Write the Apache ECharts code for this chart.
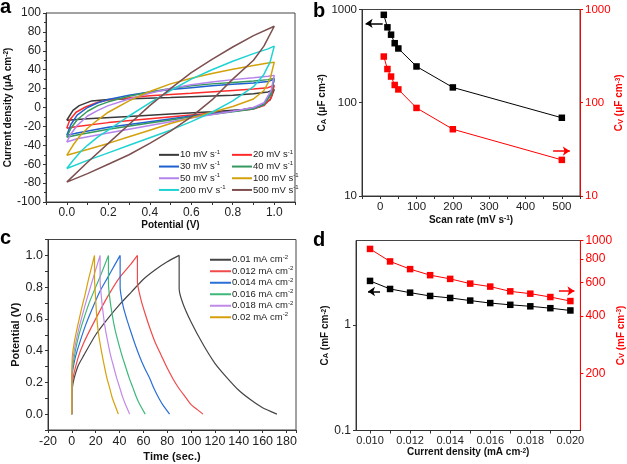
<!DOCTYPE html>
<html>
<head>
<meta charset="utf-8">
<script src="https://cdn.jsdelivr.net/npm/echarts@6.0.0/dist/echarts.min.js"></script>
<style>
  html, body { margin: 0; padding: 0; background: #fff; }
  #main { width: 627px; height: 464px; }
</style>
</head>
<body>
<div id="main"></div>
<script>
// ---- panel a: CV loops, [potential V, current density uA cm-2]
const cv10 = [[0,-13.5],[0.03,-3],[0.06,2],[0.12,7],[0.2,8.5],[0.5,10.5],[0.8,13],[0.9,14.5],[0.97,16.5],[1,19],
  [0.98,8],[0.93,1],[0.85,-2],[0.7,-4.5],[0.5,-7],[0.3,-9.5],[0.1,-12],[0,-13.5]];
const cv20 = [[0,-22],[0.015,-13],[0.045,-5],[0.09,0.5],[0.15,5.5],[0.2,8],[0.4,12.5],[0.6,15],[0.8,18],[0.9,19.5],[0.97,21],[1,23.5],
  [0.985,10],[0.95,2],[0.9,-1.5],[0.8,-4],[0.6,-8],[0.4,-12],[0.2,-16],[0.05,-20],[0,-22]];
const cv30 = [[0,-29.5],[0.02,-18],[0.05,-8],[0.1,0],[0.15,5],[0.2,8.5],[0.3,13],[0.4,16.5],[0.5,19],[0.6,21],[0.7,23],[0.8,24.5],[0.9,26],[0.97,27.5],[1,30],
  [0.985,15],[0.95,3],[0.9,-1],[0.8,-4],[0.6,-9],[0.4,-15],[0.2,-21],[0.05,-27],[0,-29.5]];
const cv40 = [[0,-31.5],[0.02,-22],[0.05,-13],[0.1,-4],[0.15,2],[0.2,6],[0.3,12],[0.4,16.5],[0.5,20],[0.6,23],[0.7,25],[0.8,26.5],[0.9,28],[0.97,29.5],[1,31],
  [0.985,14],[0.95,3],[0.9,-1.5],[0.8,-4.5],[0.6,-10],[0.4,-16.5],[0.2,-23],[0.05,-29],[0,-31.5]];
const cv50 = [[0,-36.5],[0.02,-28],[0.05,-19],[0.1,-9],[0.15,-3],[0.2,2],[0.3,9],[0.4,15],[0.5,20],[0.6,24],[0.7,27],[0.8,29.5],[0.9,31.5],[0.97,33],[1,34],
  [0.985,18],[0.95,5],[0.9,0],[0.8,-4],[0.6,-11],[0.4,-19],[0.2,-27],[0.05,-33],[0,-36.5]];
const cv100 = [[0,-50.6],[0.03,-40],[0.06,-31],[0.1,-22],[0.15,-13],[0.2,-5],[0.3,7],[0.4,17],[0.5,25],[0.6,31],[0.7,36],[0.8,40.5],[0.9,44.5],[0.97,47],[1,48],
  [0.98,30],[0.95,18],[0.9,9],[0.8,1],[0.7,-5],[0.6,-11],[0.5,-17],[0.4,-24],[0.3,-31],[0.2,-38],[0.1,-44.5],[0,-50.6]];
const cv200 = [[0,-64.6],[0.03,-56],[0.07,-46],[0.1,-40],[0.15,-31],[0.2,-24],[0.3,-9],[0.4,5],[0.5,18],[0.6,30],[0.7,40],[0.8,49],[0.9,57],[0.97,62],[1,65],
  [0.98,48],[0.95,35],[0.9,22],[0.8,7],[0.7,-5],[0.6,-15],[0.5,-24],[0.4,-32],[0.3,-40],[0.2,-48],[0.1,-56],[0,-64.6]];
const cv500 = [[0,-79],[0.1,-58],[0.2,-38],[0.3,-18],[0.4,2],[0.5,20],[0.6,37],[0.7,51],[0.8,64],[0.9,76],[1,86],
  [0.95,65],[0.9,50],[0.8,30],[0.7,8],[0.6,-10],[0.5,-25],[0.4,-38],[0.3,-50],[0.2,-60],[0.1,-70],[0,-79]];

// ---- panel b: capacitance vs scan rate
const scanRate = [10, 20, 30, 40, 50, 100, 200, 500];
const capAreaB = [877, 644, 537, 435, 382, 245, 146, 69];
const capVolB = [313, 230, 191, 155, 139, 88, 52, 24.4];

// ---- panel c: GCD curves, [time s, potential V]
const gcd010 = [[0,0],[0.5,0.17],[5,0.3],[10,0.37],[20,0.5],[30,0.6],[40,0.69],[50,0.77],[60,0.85],[70,0.91],[80,0.96],[90,1],
  [90,0.79],[93,0.7],[100,0.58],[110,0.44],[120,0.32],[130,0.23],[140,0.15],[150,0.09],[160,0.04],[172,0]];
const gcd012 = [[0,0],[0.5,0.2],[5,0.35],[10,0.45],[20,0.6],[30,0.74],[40,0.86],[50,0.95],[55,1],
  [55,0.83],[58,0.72],[62,0.62],[66,0.53],[70,0.45],[75,0.37],[80,0.29],[85,0.22],[90,0.16],[95,0.11],[100,0.06],[105,0.03],[110,0]];
const gcd014 = [[0,0],[0.4,0.25],[3,0.36],[7,0.46],[12,0.57],[18,0.68],[24,0.78],[30,0.86],[36,0.94],[40.5,1],
  [40.5,0.8],[43,0.68],[46,0.6],[49,0.53],[53,0.44],[57,0.36],[61,0.29],[65,0.23],[69,0.16],[73,0.1],[77,0.05],[82,0]];
const gcd016 = [[0,0],[0.3,0.27],[3,0.4],[6,0.5],[10,0.6],[15,0.71],[20,0.8],[25,0.89],[30.7,1],
  [30.7,0.82],[32,0.72],[34,0.62],[36,0.54],[39,0.45],[42,0.37],[45,0.3],[48,0.23],[51,0.17],[54,0.11],[57,0.06],[61.5,0]];
const gcd018 = [[0,0],[0.3,0.3],[2,0.4],[5,0.51],[8,0.6],[12,0.71],[16,0.81],[20,0.91],[23.7,1],
  [23.7,0.84],[25,0.72],[26.5,0.62],[28,0.54],[30,0.46],[32.5,0.37],[35,0.3],[37.5,0.23],[40,0.17],[42.5,0.11],[45,0.06],[48.5,0]];
const gcd020 = [[0,0],[0.3,0.35],[2,0.45],[5,0.56],[8,0.66],[11,0.75],[14,0.85],[17,0.94],[19,1],
  [19,0.86],[20,0.72],[21,0.6],[22.5,0.5],[24.5,0.41],[26.5,0.33],[29,0.24],[31.5,0.17],[34,0.1],[36.5,0.05],[39,0]];

// ---- panel d: capacitance vs current density
const currDensity = [0.010, 0.011, 0.012, 0.013, 0.014, 0.015, 0.016, 0.017, 0.018, 0.019, 0.020];
const capAreaD = [2.61, 2.19, 2.02, 1.88, 1.80, 1.70, 1.61, 1.55, 1.50, 1.44, 1.37];
const capVolD = [903, 776, 707, 657, 628, 593, 572, 540, 525, 504, 480];

// tick labels
const ticksD = [0.010, 0.012, 0.014, 0.016, 0.018, 0.020];
const minorD = [0.010, 0.011, 0.012, 0.013, 0.014, 0.015, 0.016, 0.017, 0.018, 0.019, 0.020];
const ticksDArea = [0.1, 1];
const ticksDVol = [200, 400, 600, 800, 1000];

const FONT = '"Liberation Sans", Arial, sans-serif';
const chart = echarts.init(document.getElementById('main'));

const zip = (xs, ys) => xs.map((x, i) => [x, ys[i]]);

const nameRich = {
  b: { fontSize: 10, fontWeight: 'bold', color: '#111', fontFamily: FONT },
  p: { fontSize: 6.5, fontWeight: 'bold', color: '#111', verticalAlign: 'top', fontFamily: FONT },
  s: { fontSize: 7.5, fontWeight: 'bold', color: '#111', verticalAlign: 'bottom', fontFamily: FONT },
  rb: { fontSize: 10, fontWeight: 'bold', color: '#ff0000', fontFamily: FONT },
  rp: { fontSize: 6.5, fontWeight: 'bold', color: '#ff0000', verticalAlign: 'top', fontFamily: FONT },
  rs: { fontSize: 7.5, fontWeight: 'bold', color: '#ff0000', verticalAlign: 'bottom', fontFamily: FONT }
};

function axisBase(extra) {
  return Object.assign({
    nameLocation: 'middle',
    nameTextStyle: { rich: nameRich },
    axisLine: { show: true, onZero: false, lineStyle: { color: '#333', width: 1 } },
    axisTick: { show: true, length: 3, lineStyle: { color: '#333' } },
    axisLabel: { color: '#222', fontSize: 12, fontFamily: FONT, margin: 5 },
    splitLine: { show: false }
  }, extra);
}

const legendRich = {
  t: { fontSize: 9.5, color: '#222', fontFamily: FONT },
  p: { fontSize: 6, color: '#222', verticalAlign: 'top', fontFamily: FONT }
};

function cvLine(name, data, color) {
  return { name: name, type: 'line', xAxisIndex: 0, yAxisIndex: 0, data: data, symbol: 'none',
    lineStyle: { color: color, width: 1.5 }, itemStyle: { color: color } };
}
function gcdLine(name, data, color) {
  return { name: name, type: 'line', xAxisIndex: 2, yAxisIndex: 3, data: data, symbol: 'none', smooth: 0.2,
    lineStyle: { color: color, width: 1.2 }, itemStyle: { color: color } };
}
function arrowLine(color, from, to) {
  return { silent: true, symbol: ['none', 'arrow'], symbolSize: 7, label: { show: false },
    lineStyle: { color: color, width: 1.5, type: 'solid' },
    data: [[{ coord: from }, { coord: to }]] };
}

const option = {
  animation: false,
  backgroundColor: '#fff',
  textStyle: { fontFamily: FONT },
  graphic: [
    { type: 'text', left: 0, top: -3, style: { text: 'a', font: 'bold 20px ' + FONT, fill: '#000' } },
    { type: 'text', left: 313, top: 1, style: { text: 'b', font: 'bold 20px ' + FONT, fill: '#000' } },
    { type: 'text', left: 0, top: 228, style: { text: 'c', font: 'bold 20px ' + FONT, fill: '#000' } },
    { type: 'text', left: 313, top: 230, style: { text: 'd', font: 'bold 20px ' + FONT, fill: '#000' } }
  ],
  grid: [
    { left: 46, top: 13, width: 249, height: 189, show: true, borderColor: '#444', borderWidth: 1, backgroundColor: 'transparent' },
    { left: 362, top: 9.5, width: 218, height: 186.5, show: true, borderColor: '#444', borderWidth: 1, backgroundColor: 'transparent' },
    { left: 48, top: 239.5, width: 248, height: 190.5, show: true, borderColor: '#444', borderWidth: 1, backgroundColor: 'transparent' },
    { left: 356, top: 240.5, width: 228, height: 190, show: true, borderColor: '#444', borderWidth: 1, backgroundColor: 'transparent' }
  ],
  legend: [
    { left: 154, top: 144, orient: 'vertical', icon: 'rect', itemWidth: 20, itemHeight: 2, itemGap: 0,
      data: ['10 mV s', '30 mV s', '50 mV s', '200 mV s'],
      formatter: n => '{t|' + n + '}{p|-1}', textStyle: { rich: legendRich, lineHeight: 11.7, padding: [0, 0, 0, -4] } },
    { left: 227, top: 144, orient: 'vertical', icon: 'rect', itemWidth: 20, itemHeight: 2, itemGap: 0,
      data: ['20 mV s', '40 mV s', '100 mV s', '500 mV s'],
      formatter: n => '{t|' + n + '}{p|-1}', textStyle: { rich: legendRich, lineHeight: 11.7, padding: [0, 0, 0, -4] } },
    { left: 205, top: 249, orient: 'vertical', icon: 'rect', itemWidth: 21, itemHeight: 2, itemGap: 0,
      data: ['0.01 mA cm', '0.012 mA cm', '0.014 mA cm', '0.016 mA cm', '0.018 mA cm', '0.02 mA cm'],
      formatter: n => '{t|' + n + '}{p|-2}', textStyle: { rich: legendRich, lineHeight: 11.5, padding: [0, 0, 0, -4] } }
  ],
  xAxis: [
    axisBase({ gridIndex: 0, type: 'value', min: -0.1, max: 1.1, interval: 0.1,
      name: '{b|Potential (V)}', nameGap: 18,
      axisLabel: { color: '#222', fontSize: 12, fontFamily: FONT, margin: 5,
        formatter: v => (Math.round(v * 10) % 2 === 0 && v > -0.05 && v < 1.05) ? v.toFixed(1) : '' } }),
    axisBase({ gridIndex: 1, type: 'value', min: -50, max: 550, interval: 50,
      name: '{b|Scan rate (mV s}{p|-1}{b|)}', nameGap: 19,
      axisLabel: { color: '#222', fontSize: 11.5, fontFamily: FONT, margin: 5,
        formatter: v => (v % 100 === 0 && v >= 0 && v <= 500) ? String(v) : '' } }),
    axisBase({ gridIndex: 2, type: 'value', min: -20, max: 188, interval: 20,
      name: '{b|Time (sec.)}', nameGap: 21,
      nameTextStyle: { rich: { b: { fontSize: 11, fontWeight: 'bold', color: '#111', fontFamily: FONT } } },
      axisLabel: { color: '#222', fontSize: 12.5, fontFamily: FONT, margin: 5,
        formatter: v => (v % 20 === 0) ? String(v) : '' } }),
    axisBase({ gridIndex: 3, type: 'value', min: 0.0093, max: 0.0205,
      name: '{b|Current density (mA cm}{p|-2}{b|)}', nameGap: 17,
      axisTick: { show: true, length: 3, lineStyle: { color: '#333' }, customValues: minorD },
      axisLabel: { color: '#222', fontSize: 11, fontFamily: FONT, margin: 5, customValues: ticksD,
        formatter: v => v.toFixed(3) } })
  ],
  yAxis: [
    axisBase({ gridIndex: 0, type: 'value', min: -100, max: 100, interval: 20,
      name: '{b|Current density (μA cm}{p|-2}{b|)}', nameGap: 27, nameRotate: 90,
      minorTick: { show: true, splitNumber: 2, length: 2, lineStyle: { color: '#333' } } }),
    axisBase({ gridIndex: 1, type: 'log', logBase: 10, min: 10, max: 1000,
      name: '{b|C}{s|A}{b| (μF cm}{p|-2}{b|)}', nameGap: 33, nameRotate: 90,
      axisLabel: { color: '#222', fontSize: 11.5, fontFamily: FONT, margin: 5, formatter: v => String(v) } }),
    axisBase({ gridIndex: 1, type: 'log', logBase: 10, min: 10, max: 1000, position: 'right',
      name: '{rb|C}{rs|V}{rb| (μF cm}{rp|-3}{rb|)}', nameGap: 27, nameRotate: 90,
      axisLine: { show: true, onZero: false, lineStyle: { color: '#ff0000', width: 1 } },
      axisTick: { show: true, length: 3, lineStyle: { color: '#ff0000' } },
      axisLabel: { color: '#ff0000', fontSize: 11.5, fontFamily: FONT, margin: 5, formatter: v => String(v) } }),
    axisBase({ gridIndex: 2, type: 'value', min: -0.1, max: 1.1, interval: 0.1,
      name: '{b|Potential (V)}', nameGap: 26, nameRotate: 90,
      nameTextStyle: { rich: { b: { fontSize: 11, fontWeight: 'bold', color: '#111', fontFamily: FONT } } },
      axisLabel: { color: '#222', fontSize: 12.5, fontFamily: FONT, margin: 5,
        formatter: v => (Math.round(v * 10) % 2 === 0 && v > -0.05 && v < 1.05) ? v.toFixed(1) : '' } }),
    axisBase({ gridIndex: 3, type: 'log', logBase: 10, min: 0.1, max: 6.3,
      name: '{b|C}{s|A}{b| (mF cm}{p|-2}{b|)}', nameGap: 12, nameRotate: 90,
      axisTick: { show: true, length: 3, lineStyle: { color: '#333' }, customValues: ticksDArea },
      axisLabel: { color: '#222', fontSize: 12, fontFamily: FONT, margin: 5, customValues: ticksDArea, formatter: v => String(v) } }),
    axisBase({ gridIndex: 3, type: 'log', logBase: 10, min: 100, max: 1000, position: 'right',
      name: '{rb|C}{rs|V}{rb| (mF cm}{rp|-3}{rb|)}', nameGap: 28, nameRotate: 90,
      axisLine: { show: true, onZero: false, lineStyle: { color: '#ff0000', width: 1 } },
      axisTick: { show: true, length: 3, lineStyle: { color: '#ff0000' }, customValues: ticksDVol },
      axisLabel: { color: '#ff0000', fontSize: 12, fontFamily: FONT, margin: 5, customValues: ticksDVol, formatter: v => String(v) } })
  ],
  series: [
    cvLine('10 mV s', cv10, '#3a3a3a'),
    cvLine('20 mV s', cv20, '#ff2a2a'),
    cvLine('30 mV s', cv30, '#1f5fd0'),
    cvLine('40 mV s', cv40, '#35995e'),
    cvLine('50 mV s', cv50, '#b682ec'),
    cvLine('100 mV s', cv100, '#d3a10c'),
    cvLine('200 mV s', cv200, '#1fd3d3'),
    cvLine('500 mV s', cv500, '#7d4f4f'),
    { name: 'CA b', type: 'line', xAxisIndex: 1, yAxisIndex: 1, data: zip(scanRate, capAreaB),
      symbol: 'rect', symbolSize: 6.5, lineStyle: { color: '#000', width: 1 }, itemStyle: { color: '#000' },
      markLine: arrowLine('#000', [7, 709], [-40, 709]) },
    { name: 'CV b', type: 'line', xAxisIndex: 1, yAxisIndex: 2, data: zip(scanRate, capVolB),
      symbol: 'rect', symbolSize: 6.5, lineStyle: { color: '#ff0000', width: 1 }, itemStyle: { color: '#ff0000' },
      markLine: arrowLine('#ff0000', [476, 30.3], [522, 30.3]) },
    gcdLine('0.01 mA cm', gcd010, '#454545'),
    gcdLine('0.012 mA cm', gcd012, '#f04a4a'),
    gcdLine('0.014 mA cm', gcd014, '#2a6fd6'),
    gcdLine('0.016 mA cm', gcd016, '#3db879'),
    gcdLine('0.018 mA cm', gcd018, '#c08ae8'),
    gcdLine('0.02 mA cm', gcd020, '#d6a10a'),
    { name: 'CA d', type: 'line', xAxisIndex: 3, yAxisIndex: 4, data: zip(currDensity, capAreaD),
      symbol: 'rect', symbolSize: 6.5, lineStyle: { color: '#000', width: 1 }, itemStyle: { color: '#000' },
      markLine: arrowLine('#000', [0.0105, 2.07], [0.0099, 2.07]) },
    { name: 'CV d', type: 'line', xAxisIndex: 3, yAxisIndex: 5, data: zip(currDensity, capVolD),
      symbol: 'rect', symbolSize: 6.5, lineStyle: { color: '#ff0000', width: 1 }, itemStyle: { color: '#ff0000' },
      markLine: arrowLine('#ff0000', [0.01943, 542], [0.0202, 542]) }
  ]
};

chart.setOption(option);
</script>
</body>
</html>
